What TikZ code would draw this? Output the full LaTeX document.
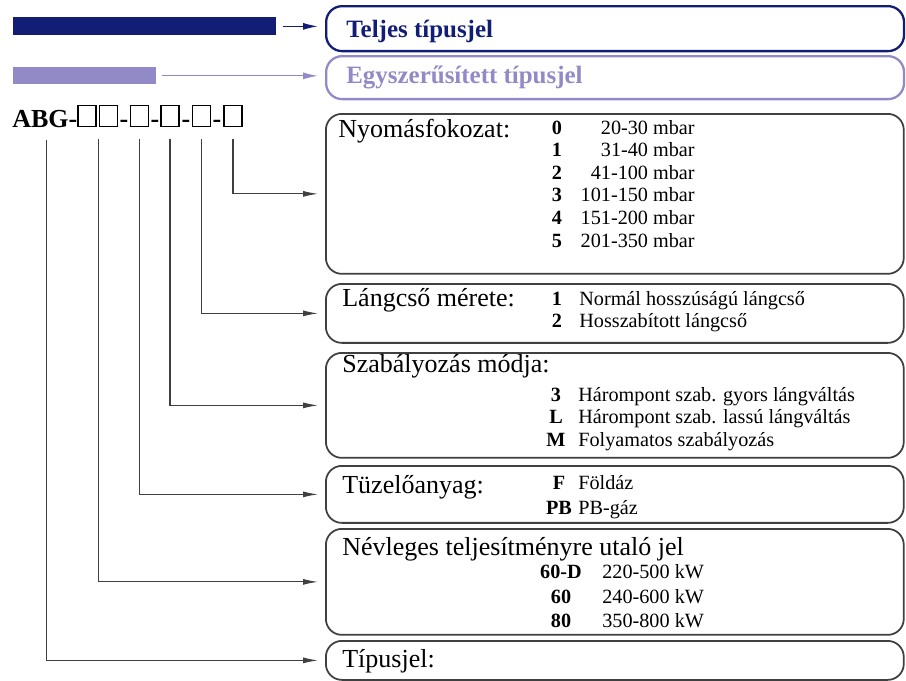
\documentclass[tikz,border=0pt]{standalone}
\usepackage{fontspec}
\setmainfont{Liberation Serif}
\usepackage{tikz}
\usetikzlibrary{arrows.meta}
\definecolor{navyblue}{RGB}{18,30,118}
\definecolor{lavender}{RGB}{146,138,198}
\definecolor{linegray}{RGB}{64,64,64}

\begin{document}
\begin{tikzpicture}[x=0.02cm,y=-0.02cm,
  box/.style={draw=linegray, line width=1pt, rounded corners=0.32cm, minimum width=11.56cm, anchor=north west, inner sep=0pt},
  pointer/.style={draw=linegray, line width=0.6pt, -{Latex[length=0.3cm,width=0.12cm]}, shorten >=0.14cm},
  cell/.style={draw=black, line width=1.1pt, minimum width=0.36cm, minimum height=0.42cm, inner sep=0pt},
  lbl/.style={font=\fontsize{14.8}{17}\selectfont, anchor=base west, inner sep=0pt},
  code/.style={font=\fontsize{11.5}{13}\selectfont\bfseries, anchor=base, inner sep=0pt},
  item/.style={font=\fontsize{11.5}{13}\selectfont, anchor=base west, inner sep=0pt}
]
\useasboundingbox (0,0) rectangle (906,680);

% Legend bars
\node[fill=navyblue, minimum width=5.26cm, minimum height=0.36cm, anchor=north west, inner sep=0pt] (fullbar) at (13,17) {};
\node[fill=lavender, minimum width=2.86cm, minimum height=0.34cm, anchor=north west, inner sep=0pt] (shortbar) at (13,67) {};
\node[box, draw=navyblue, line width=1.3pt, minimum height=0.9cm] (teljes) at (325,5) {};
\node[box, draw=lavender, line width=1.3pt, minimum height=0.86cm] (egysz) at (325,55) {};
\node[font=\fontsize{14.2}{16}\selectfont\bfseries, text=navyblue, anchor=base west, inner sep=0pt] (teljestxt) at (346,37) {Teljes típusjel};
\node[font=\fontsize{14.2}{16}\selectfont\bfseries, text=lavender, anchor=base west, inner sep=0pt] (egysztxt) at (346,83) {Egyszerűsített típusjel};
\draw[navyblue, line width=0.7pt, -{Latex[length=0.3cm,width=0.14cm]}, shorten <=0.12cm, shorten >=0.14cm] (fullbar.east) -- (fullbar.east -| teljes.west);
\draw[lavender, line width=0.7pt, -{Latex[length=0.3cm,width=0.14cm]}, shorten <=0.1cm, shorten >=0.14cm] (shortbar.east) -- (shortbar.east -| egysz.west);

% Type code
\node[font=\fontsize{14.8}{17}\selectfont\bfseries, anchor=base west, inner sep=0pt] (abg) at (12,127) {ABG-};
\node[cell] (sq1) at (87,116) {};
\node[cell] (sq2) at (108.5,116) {};
\node[cell] (sq3) at (139.5,116) {};
\node[cell] (sq4) at (170,116) {};
\node[cell] (sq5) at (201.5,116) {};
\node[cell] (sq6) at (233,116) {};
\foreach \x [count=\i] in {124,155,186,217}
{
    \node[font=\fontsize{14.8}{17}\selectfont\bfseries, anchor=base, inner sep=0pt] (dash\i) at (\x,127) {-};
}

% Boxes
\node[box, minimum height=3.2cm] (nyomas) at (325,113) {};
\node[box, minimum height=1.18cm] (langcso) at (325,283) {};
\node[box, minimum height=2.1cm] (szab) at (325,352) {};
\node[box, minimum height=1.14cm] (tuzelo) at (325,465) {};
\node[box, minimum height=2.12cm] (nevleges) at (325,528) {};
\node[box, minimum height=0.78cm] (tipus) at (325,640) {};

% Connectors
\draw[pointer] ([yshift=-0.24cm]sq6.south) |- (nyomas.west);
\draw[pointer] ([yshift=-0.24cm]sq5.south) |- (langcso.west);
\draw[pointer] ([yshift=-0.24cm]sq4.south) |- (szab.west);
\draw[pointer] ([yshift=-0.24cm]sq3.south) |- (tuzelo.west);
\draw[pointer] ([xshift=0.03cm,yshift=-0.24cm]sq1.south east) |- (nevleges.west);
\draw[pointer] ([xshift=0.04cm,yshift=-0.24cm]abg.south) |- (tipus.west);

% Nyomasfokozat
\node[lbl] (nyomaslbl) at (338,137) {Nyomásfokozat:};
\foreach \c/\v [count=\i from 0] in {0/20-30,1/31-40,2/41-100,3/101-150,4/151-200,5/201-350}
{
    \node[code] (nyc\i) at (557,134+22.6*\i) {\c};
    \node[item, anchor=base east] (nyv\i) at (695,134+22.6*\i) {\v{} mbar};
}

% Langcso merete
\node[lbl] (langlbl) at (342,306) {Lángcső mérete:};
\node[code] (lc1) at (557,305) {1};
\node[item] (lv1) at (579,305) {Normál hosszúságú lángcső};
\node[code] (lc2) at (557,327) {2};
\node[item] (lv2) at (579,327) {Hosszabított lángcső};

% Szabalyozas modja
\node[lbl] (szablbl) at (342,372) {Szabályozás módja:};
\node[code] (sc1) at (556,401) {3};
\node[item] (sv1) at (578,401) {Hárompont szab. gyors lángváltás};
\node[code] (sc2) at (556,423) {L};
\node[item] (sv2) at (578,423) {Hárompont szab. lassú lángváltás};
\node[code] (sc3) at (556,446) {M};
\node[item] (sv3) at (578,446) {Folyamatos szabályozás};

% Tuzeloanyag
\node[lbl] (tuzlbl) at (342,493) {Tüzelőanyag:};
\node[code] (tc1) at (559,489) {F};
\node[item] (tv1) at (578,489) {Földáz};
\node[code] (tc2) at (559,514) {PB};
\node[item] (tv2) at (578,514) {PB-gáz};

% Nevleges teljesitmeny
\node[lbl] (nevlbl) at (342,555) {Névleges teljesítményre utaló jel};
\foreach \c/\v [count=\i] in {60-D/220-500,60/240-600,80/350-800}
{
    \node[code] (nc\i) at (561,554+24.5*\i) {\c};
    \node[item] (nv\i) at (602,554+24.5*\i) {\v{} kW};
}

% Tipusjel
\node[lbl] (tiplbl) at (342,667) {Típusjel:};

\end{tikzpicture}
\end{document}
